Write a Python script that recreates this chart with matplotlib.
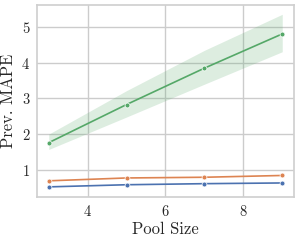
import matplotlib
matplotlib.use('Agg')
from matplotlib import pyplot as plt
import seaborn as sns

pool_size = [3, 5, 7, 9]
blue_mape = [0.52, 0.58, 0.61, 0.63]
orange_mape = [0.69, 0.77, 0.79, 0.84]
green_mape = [1.76, 2.83, 3.85, 4.81]
green_low = [1.57, 2.48, 3.40, 4.31]
green_high = [2.00, 3.22, 4.35, 5.36]

sns.set_theme(style='whitegrid')
plt.rcParams['font.family'] = ['serif']
plt.rcParams['font.serif'] = ['cmr10']
plt.rcParams['mathtext.fontset'] = 'cm'
plt.rcParams['axes.formatter.use_mathtext'] = True

colors = sns.color_palette('deep')

fig, ax = plt.subplots(figsize=(2.99, 2.40), dpi=100)
ax.fill_between(pool_size, green_low, green_high, color=colors[2], alpha=0.2, linewidth=0)
for vals, c in [(blue_mape, colors[0]), (orange_mape, colors[1]), (green_mape, colors[2])]:
    ax.plot(pool_size, vals, color=c, linewidth=1.2, marker='o', markersize=3.5,
            markeredgecolor='white', markeredgewidth=0.5)

ax.set_xlim(2.7, 9.3)
ax.set_ylim(0.235, 5.62)
ax.set_xticks([4, 6, 8])
ax.set_yticks([1, 2, 3, 4, 5])
ax.tick_params(labelsize=10.5, length=0, pad=5)
ax.set_xlabel('Pool Size', fontsize=12, labelpad=2)
ax.set_ylabel('Prev. MAPE', fontsize=12, labelpad=4)
for s in ax.spines.values():
    s.set_color('#d0d0d0')

fig.subplots_adjust(left=0.124, right=0.983, top=0.979, bottom=0.179)
fig.savefig('out.png', dpi=100)
